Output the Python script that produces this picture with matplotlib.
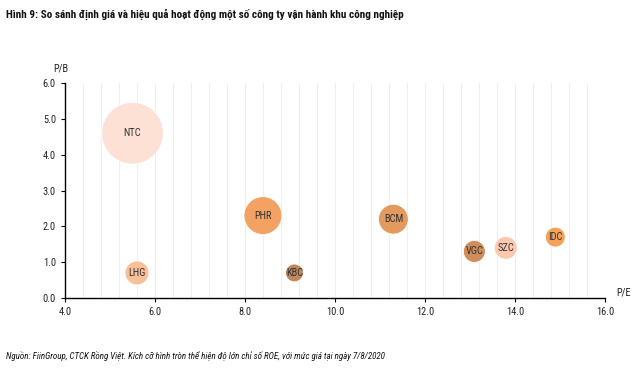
import numpy as np
import matplotlib.pyplot as plt
from matplotlib.ticker import MultipleLocator

# Dữ liệu: P/E, P/B và ROE (kích cỡ hình tròn)
cong_ty = ['NTC', 'PHR', 'LHG', 'KBC', 'BCM', 'VGC', 'SZC', 'IDC']
pe = [5.5, 8.4, 5.6, 9.1, 11.3, 13.1, 13.8, 14.9]
pb = [4.6, 2.3, 0.7, 0.7, 2.2, 1.3, 1.4, 1.7]
roe = [30.0, 11.3, 4.5, 2.5, 7.0, 3.8, 4.1, 3.1]

mau = ['#FDE1D5', '#F3A263', '#F8BF98', '#C0875A', '#E39A5F',
       '#D18E5A', '#FCC9B0', '#F5A35B']

plt.rcParams['font.family'] = ['Roboto Condensed', 'Liberation Sans Narrow',
                               'Liberation Sans', 'DejaVu Sans']

fig = plt.figure(figsize=(6.4, 3.77), dpi=100)
ax = fig.add_axes([0.1016, 0.2095, 0.8434, 0.5703])

ax.scatter(pe, pb, s=np.array(roe) * 66, c=mau, edgecolors='white',
           linewidths=0.6, zorder=3)
for ten, x, y in zip(cong_ty, pe, pb):
    ax.text(x, y, ten, ha='center', va='center', fontsize=7.5,
            color='#333333', zorder=4)

ax.set_xlim(4, 16)
ax.set_ylim(0, 6)
ax.xaxis.set_major_locator(MultipleLocator(2))
ax.xaxis.set_minor_locator(MultipleLocator(0.4))
ax.yaxis.set_major_locator(MultipleLocator(1))
ax.xaxis.set_major_formatter(plt.FuncFormatter(lambda v, p: f'{v:.1f}'))
ax.yaxis.set_major_formatter(plt.FuncFormatter(lambda v, p: f'{v:.1f}'))
ax.grid(True, which='both', axis='x', color='#EEEEEE', linewidth=0.8, zorder=0)
ax.set_axisbelow(True)

for s in ['top', 'right']:
    ax.spines[s].set_visible(False)
for s in ['left', 'bottom']:
    ax.spines[s].set_color('black')
    ax.spines[s].set_linewidth(1.0)
ax.tick_params(axis='both', which='major', labelsize=7.5, length=3,
               color='black', labelcolor='#222222')
ax.tick_params(axis='x', which='minor', length=0)

fig.text(0.083, 0.81, 'P/B', fontsize=7.5, color='#222222')
fig.text(0.963, 0.216, 'P/E', fontsize=7.5, color='#222222')

fig.text(0.01, 0.963, 'Hình 9: So sánh định giá và hiệu quả hoạt động một số công ty vận hành khu công nghiệp',
         fontsize=8, fontweight='bold', color='#111111', va='center')
fig.text(0.01, 0.057, 'Nguồn: FiinGroup, CTCK Rồng Việt. Kích cỡ hình tròn thể hiện độ lớn chỉ số ROE, với mức giá tại ngày 7/8/2020',
         fontsize=6.5, style='italic', color='#111111', va='center')

fig.savefig('out.png', dpi=100)
